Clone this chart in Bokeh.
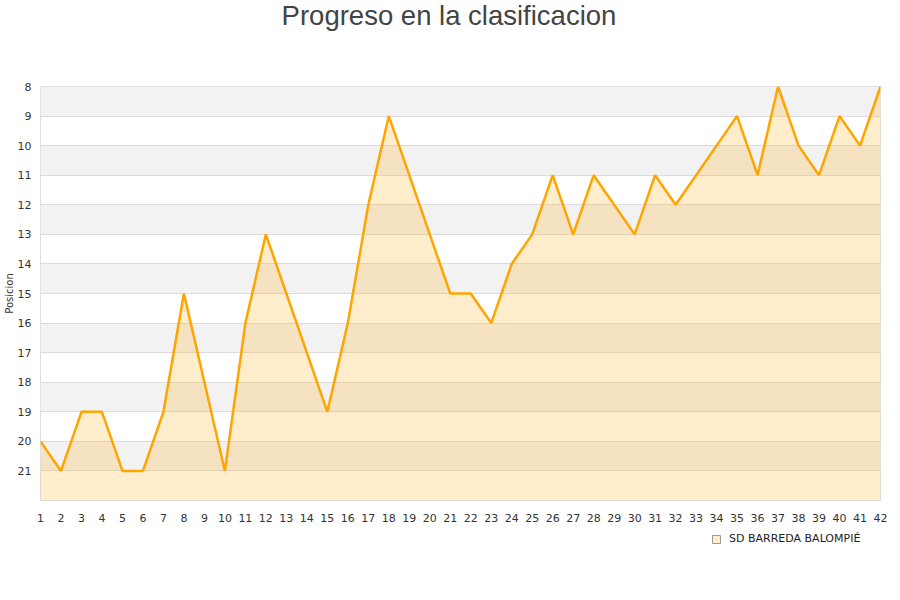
from bokeh.plotting import figure
from bokeh.models import Range1d, FixedTicker, Legend, LegendItem, Div
from bokeh.layouts import column
from bokeh.embed import file_html
from bokeh.resources import INLINE

titulo = "Progreso en la clasificacion"
equipo = "SD BARREDA BALOMPIÉ"

# jornada -> posicion en la tabla
jornadas = list(range(1, 43))
posiciones = [20, 21, 19, 19, 21, 21, 19, 15, 18, 21,
              16, 13, 15, 17, 19, 16, 12, 9, 11, 13,
              15, 15, 16, 14, 13, 11, 13, 11, 12, 13,
              11, 12, 11, 10, 9, 11, 8, 10, 11, 9,
              10, 8]

y_ticks = list(range(8, 22))
band_tops = list(range(8, 22, 2))  # franjas grises 8-9, 10-11, ...
fondo = 22

# titulo aparte, en un Div encima de la figura
title_div = Div(
    text=f'<div style="position:relative; top:2px; width:898px; text-align:center; '
         f'font-family:\'Liberation Sans Narrow\', \'Liberation Sans\', Arial, sans-serif; '
         f'font-size:27.5px; line-height:27px; color:#444444;">{titulo}</div>',
    width=892, height=40, margin=0,
)

p = figure(
    width=892, height=484,
    x_range=Range1d(1, 42), y_range=Range1d(fondo, 8),
    output_backend="svg", toolbar_location=None,
    min_border_left=40, min_border_right=12,
    min_border_top=46, min_border_bottom=24,
)

# franjas alternas
p.quad(left=1, right=42, top=band_tops, bottom=[t + 1 for t in band_tops],
       fill_color="#f2f2f2", line_color=None, level="image")

p.varea(x=jornadas, y1=posiciones, y2=fondo, fill_color="#FFA500", fill_alpha=0.2)
p.line(jornadas, posiciones, line_color="#FFA500", line_width=2.5)

p.yaxis.ticker = FixedTicker(ticks=y_ticks)
p.ygrid.ticker = FixedTicker(ticks=y_ticks)
p.ygrid.grid_line_color = "#dcdcdc"
p.xgrid.visible = False
p.xaxis.ticker = FixedTicker(ticks=jornadas)

p.yaxis.axis_label = "Posicion"
p.yaxis.axis_label_text_font = "DejaVu Sans"
p.yaxis.axis_label_text_font_size = "10px"
p.yaxis.axis_label_text_font_style = "normal"
p.yaxis.axis_label_text_color = "#333333"
p.yaxis.axis_label_standoff = 0

for ax in (p.xaxis, p.yaxis):
    ax.axis_line_color = None
    ax.major_tick_line_color = None
    ax.minor_tick_line_color = None
    ax.major_label_text_font = "DejaVu Sans"
    ax.major_label_text_font_size = "11px"
    ax.major_label_text_color = "#333333"
    ax.major_label_standoff = 7
p.yaxis.major_label_standoff = 3

p.outline_line_color = "#dddddd"

# leyenda en una franja aparte bajo el grafico (dentro del frame no se recorta);
# la serie queda fuera del rango visible, solo sirve para la muestra
pl = figure(
    width=892, height=40,
    x_range=Range1d(-2, -1), y_range=Range1d(fondo, 8),
    output_backend="svg", toolbar_location=None,
    x_axis_location=None, y_axis_location=None,
    min_border=0, outline_line_color=None,
)
pl.grid.visible = False
muestra = pl.patch(x=jornadas, y=posiciones,
                   fill_color="#FFA500", fill_alpha=0.2,
                   line_color="#9a9a9a", line_width=1)

legend = Legend(
    items=[LegendItem(label=equipo, renderers=[muestra])],
    location=(671, 19), orientation="horizontal",
    border_line_color=None, background_fill_alpha=0,
    padding=0, margin=0, glyph_width=10, glyph_height=10,
    label_height=10, label_standoff=8,
    label_text_font="DejaVu Sans", label_text_font_size="11px",
    label_text_color="#222222",
)
pl.add_layout(legend)

layout = column(title_div, p, pl, spacing=0)
open("out.html", "w").write(file_html(layout, INLINE))
